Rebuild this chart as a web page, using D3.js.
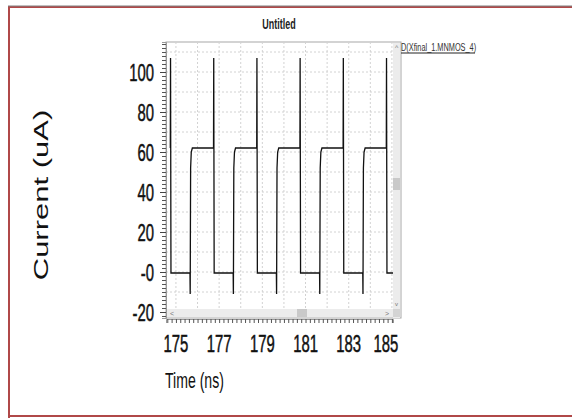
<!DOCTYPE html>
<html>
<head>
<meta charset="utf-8">
<script src="https://cdn.jsdelivr.net/npm/d3@7"></script>
<style>
  body { margin: 0; background: #fff; }
  svg { display: block; }
  text { font-family: "Liberation Sans", Arial, sans-serif; }
  .num { stroke: #111; stroke-width: 0.5; }
</style>
</head>
<body>
<svg id="chart" width="572" height="418"></svg>
<script>
// waveform: time (ns) and current (uA)
const timeNs = [
  174.74, 174.75, 174.77, 175.65, 175.66, 175.68, 175.71, 175.76,
  176.74, 176.75, 176.77, 177.65, 177.66, 177.68, 177.71, 177.76,
  178.74, 178.75, 178.77, 179.65, 179.66, 179.68, 179.71, 179.76,
  180.74, 180.75, 180.77, 181.65, 181.66, 181.68, 181.71, 181.76,
  182.74, 182.75, 182.77, 183.65, 183.66, 183.68, 183.71, 183.76,
  184.74, 184.75, 184.77, 185.05
];
const currentUA = [
  62, 107, -0.5, -0.5, -11, 52, 60, 62,
  62, 107, -0.5, -0.5, -11, 52, 60, 62,
  62, 107, -0.5, -0.5, -11, 52, 60, 62,
  62, 107, -0.5, -0.5, -11, 52, 60, 62,
  62, 107, -0.5, -0.5, -11, 52, 60, 62,
  62, 107, -0.5, -0.5
];
const xTicks = [175, 177, 179, 181, 183, 185];
const yTicks = [-20, 0, 20, 40, 60, 80, 100];
const yTickLabels = ["-20", "-0", "20", "40", "60", "80", "100"];
const titleText = "Untitled";
const legendText = "D(Xfinal_1.MNMOS_4)";

const svg = d3.select("#chart");
const sx = 0.64; // picture is squeezed sideways, so text is too

// plot box
const pLeft = 166, pRight = 393, pTop = 42, pBottom = 318;
const x = d3.scaleLinear().domain([174.54, 185.05]).range([pLeft, pRight]);
const y = d3.scaleLinear().domain([-23, 115]).range([pBottom, pTop]);

// outer frame
svg.append("path")
  .attr("d", "M9,418 L9,7 L580,7 M9,416 L580,416")
  .attr("fill", "none").attr("stroke", "#b04848").attr("stroke-width", 2);
svg.append("line").attr("x1", 8).attr("x2", 580).attr("y1", 6).attr("y2", 6)
  .attr("stroke", "#808080").attr("stroke-width", 1);

// panel
svg.append("rect").attr("x", pLeft).attr("y", pTop)
  .attr("width", pRight - pLeft + 8).attr("height", pBottom - pTop)
  .attr("fill", "#fff").attr("stroke", "#a8a8a8");

// grid, every 1 ns and 10 uA
const grid = svg.append("g").attr("stroke", "#d2d2d2").attr("stroke-dasharray", "2,2");
grid.selectAll("line.v").data(d3.range(175, 186, 1)).join("line").attr("class", "v")
  .attr("x1", d => x(d)).attr("x2", d => x(d)).attr("y1", pTop).attr("y2", pBottom - 8);
grid.selectAll("line.h").data(d3.range(-10, 111, 10)).join("line").attr("class", "h")
  .attr("y1", d => y(d)).attr("y2", d => y(d)).attr("x1", pLeft).attr("x2", pRight);

// the trace
const line = d3.line().x(d => x(d[0])).y(d => y(d[1]));
svg.append("path")
  .datum(timeNs.map((t, i) => [t, currentUA[i]]))
  .attr("d", line)
  .attr("fill", "none").attr("stroke", "#111").attr("stroke-width", 1.3);

// scrollbars
svg.append("rect").attr("x", pLeft + 1).attr("y", pBottom - 9).attr("width", pRight - pLeft - 1).attr("height", 8)
  .attr("fill", "#ececec");
svg.append("rect").attr("x", 297).attr("y", pBottom - 9).attr("width", 10).attr("height", 8).attr("fill", "#c9c9c9");
svg.append("rect").attr("x", pRight).attr("y", pTop + 1).attr("width", 7).attr("height", pBottom - pTop - 1)
  .attr("fill", "#ececec");
svg.append("rect").attr("x", pRight).attr("y", 178).attr("width", 7).attr("height", 12).attr("fill", "#c9c9c9");
svg.append("rect").attr("x", pRight).attr("y", pBottom - 9).attr("width", 8).attr("height", 8).attr("fill", "#d4d4d4");
svg.append("text").attr("x", 170).attr("y", pBottom - 2).attr("font-size", 7).attr("fill", "#777").text("<");
svg.append("text").attr("x", pRight - 8).attr("y", pBottom - 2).attr("font-size", 7).attr("fill", "#777").text(">");
svg.append("text").attr("x", pRight + 2).attr("y", pTop + 8).attr("font-size", 7).attr("fill", "#777").text("^");
svg.append("text").attr("x", pRight + 2).attr("y", pBottom - 12).attr("font-size", 6).attr("fill", "#777").text("v");

// axes ticks
const yAxis = d3.axisLeft(y).tickValues(d3.range(-22, 115, 2)).tickSize(4).tickFormat("");
svg.append("g").attr("transform", `translate(${pLeft},0)`).call(yAxis)
  .call(g => g.select(".domain").attr("stroke", "#999"))
  .call(g => g.selectAll(".tick line").attr("stroke", "#555"));
svg.append("g").attr("transform", `translate(${pLeft},0)`)
  .call(d3.axisLeft(y).tickValues(yTicks).tickSize(6).tickFormat(""))
  .call(g => g.select(".domain").remove())
  .call(g => g.selectAll(".tick line").attr("stroke", "#444"));

const xAxis = d3.axisBottom(x).tickValues(d3.range(174.6, 185.05, 0.2)).tickSize(4).tickFormat("");
svg.append("g").attr("transform", `translate(0,${pBottom + 1})`).call(xAxis)
  .call(g => g.select(".domain").attr("stroke", "#999"))
  .call(g => g.selectAll(".tick line").attr("stroke", "#555"));

// tick labels
svg.selectAll("text.ylab").data(yTicks).join("text")
  .attr("class", "ylab num")
  .attr("transform", d => `translate(154,${y(d) + 8.5}) scale(0.62,1)`)
  .attr("text-anchor", "end").attr("font-size", 24).attr("fill", "#111")
  .text((d, i) => yTickLabels[i]);
svg.selectAll("text.xlab").data(xTicks).join("text")
  .attr("class", "xlab num")
  .attr("transform", (d, i) => `translate(${x(d) - (i === xTicks.length - 1 ? 6 : 0)},352) scale(0.62,1)`)
  .attr("text-anchor", "middle").attr("font-size", 24).attr("fill", "#111")
  .text(d => d);

// titles
svg.append("text").attr("transform", `translate(279,29) scale(${sx},1)`)
  .attr("text-anchor", "middle").attr("font-size", 14).attr("font-weight", "bold").attr("fill", "#222")
  .text(titleText);
svg.append("text").attr("transform", `translate(48,195) scale(${sx},1) rotate(-90)`)
  .attr("text-anchor", "middle").attr("font-size", 31).attr("fill", "#111")
  .text("Current (uA)");
svg.append("text").attr("transform", `translate(165,388) scale(${sx},1)`)
  .attr("font-size", 22).attr("fill", "#111")
  .text("Time (ns)");

// legend entry
svg.append("text").attr("transform", `translate(401,51) scale(${sx},1)`)
  .attr("font-size", 11.5).attr("fill", "#333")
  .text(legendText);
svg.append("line").attr("x1", 401).attr("x2", 475).attr("y1", 53).attr("y2", 53)
  .attr("stroke", "#222").attr("stroke-width", 1);
</script>
</body>
</html>
